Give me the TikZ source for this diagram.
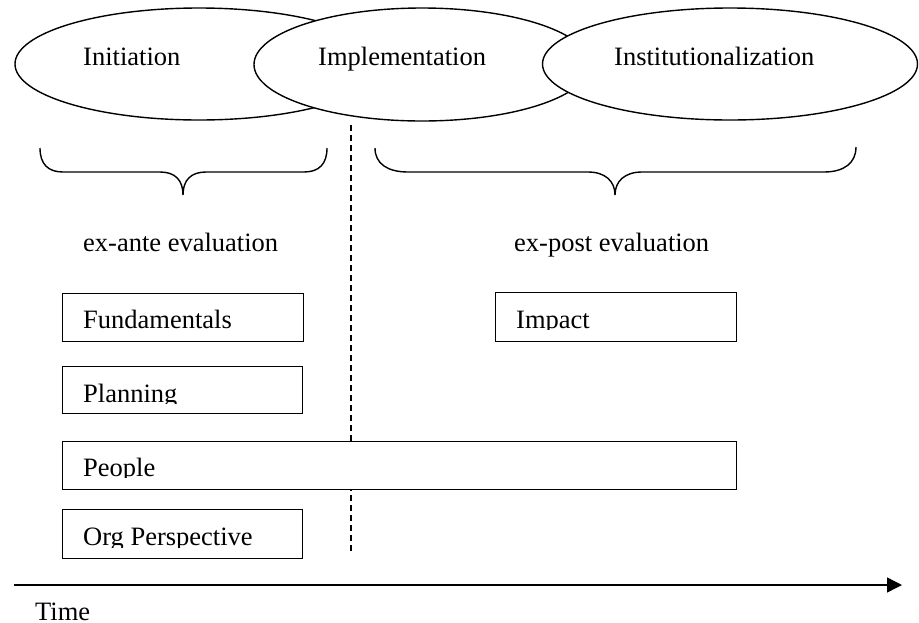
\documentclass[tikz,border=0pt]{standalone}
\usepackage{fontspec}
\setmainfont{Liberation Serif}
\usetikzlibrary{shapes.geometric,arrows.meta}
\begin{document}
\begin{tikzpicture}[x=1pt,y=-1pt,
  ell/.style={ellipse,draw,fill=white,line width=1.4pt,inner sep=0pt},
  boxn/.style={rectangle,draw,fill=white,line width=1.4pt,inner sep=0pt,anchor=north west},
  lbl/.style={anchor=base west,inner sep=0pt,font=\fontsize{26.5}{30}\selectfont},
  brace/.style={line width=1.4pt},
  dashline/.style={line width=1.2pt,dash pattern=on 6pt off 4pt}]
\useasboundingbox[fill=white] (0,0) rectangle (919,622);

% phases
\node[ell,minimum width=368pt,minimum height=112pt] (e1) at (199,64) {};
\node[lbl] (t1) at (83,65.5) {Initiation};
\node[ell,minimum width=336pt,minimum height=113pt] (e2) at (422,64.5) {};
\node[lbl] (t2) at (318,65.5) {Implementation};
\node[ell,minimum width=375pt,minimum height=112pt] (e3) at (730,64) {};
\node[lbl] (t3) at (614,65.5) {Institutionalization};

% dashed separator
\coordinate (d0) at (351,125);
\coordinate (d1) at (351,551);
\draw[dashline] (d0) -- (d1);

% braces
\draw[brace] (40,148) .. controls (40,164) and (48,172) .. (63,172) -- (160,172)
  .. controls (175,172) and (183,180) .. (183,195)
  .. controls (183,180) and (191,172) .. (206,172) -- (304,172)
  .. controls (319,172) and (327,164) .. (327,148);
\draw[brace] (375,148) .. controls (375,164) and (388,172) .. (408,172) -- (588,172)
  .. controls (605,172) and (615,181) .. (615,195)
  .. controls (615,181) and (625,172) .. (642,172) -- (824,172)
  .. controls (844,172) and (856,163) .. (856,147);

\node[lbl] (exa) at (83,251) {ex-ante evaluation};
\node[lbl] (exp) at (514,251) {ex-post evaluation};

% boxes
\node[boxn,minimum width=241pt,minimum height=48pt] (fund) at (62,293) {};
\node[lbl] (fundt) at (83,328) {Fundamentals};

\node[boxn,minimum width=241pt,minimum height=49pt] (imp) at (495,292) {};
\begin{scope}
  \clip (495,292) rectangle (736,329);
  \node[lbl] (impt) at (516,328) {Impact};
\end{scope}

\node[boxn,minimum width=240pt,minimum height=47pt] (plan) at (62,366) {};
\begin{scope}
  \clip (62,366) rectangle (302,403);
  \node[lbl] (plant) at (83,402) {Planning};
\end{scope}

\node[boxn,minimum width=674pt,minimum height=48pt] (peop) at (62,441) {};
\begin{scope}
  \clip (62,441) rectangle (736,477.5);
  \node[lbl] (peopt) at (83,476) {People};
\end{scope}

\node[boxn,minimum width=240pt,minimum height=49pt] (org) at (62,509) {};
\begin{scope}
  \clip (62,509) rectangle (302,547);
  \node[lbl] (orgt) at (83,545.5) {Org Perspective};
\end{scope}

% time axis
\coordinate (a0) at (14,585);
\coordinate (a1) at (902,585);
\draw[line width=1.4pt,-{Triangle[length=15pt,width=15pt]}] (a0) -- (a1);
\begin{scope}
  \clip (0,590) rectangle (919,622);
  \node[lbl] (time) at (35,620) {Time};
\end{scope}
\end{tikzpicture}
\end{document}
